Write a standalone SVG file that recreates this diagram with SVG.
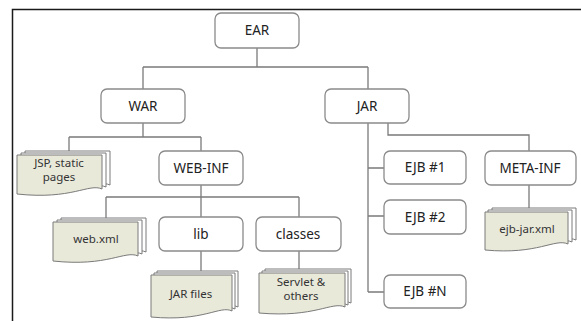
<svg xmlns="http://www.w3.org/2000/svg" width="581" height="321" viewBox="0 0 581 321">
<defs>
<style>
.box{fill:#fff;stroke:#8a8a8a;stroke-width:1.3}
.lbl{font-family:"Noto Sans","DejaVu Sans",sans-serif;font-size:13.5px;fill:#222;text-anchor:middle}
.dl{font-family:"Noto Sans","DejaVu Sans",sans-serif;font-size:11.5px;fill:#333;text-anchor:middle}
.pg{fill:#fff;stroke:#7a7a7a;stroke-width:1}
.fp{fill:#e9e9da;stroke:#7a7a7a;stroke-width:1}
.ln{fill:none;stroke:#7a7a7a;stroke-width:1.3}
</style>
</defs>
<rect width="581" height="321" fill="#fff"/>
<path d="M12.5 321 V9.5 H581" fill="none" stroke="#1a1a1a" stroke-width="1.5"/>
<g id="connectors">
<path class="ln" d="M257 48 V67 M143 67 H368 M143 67 V89 M368 67 V89"/>
<path class="ln" d="M143 123 V137 M69 137 H201 M69 137 V151 M201 137 V151"/>
<path class="ln" d="M201 185 V197 M106 197 H299 M106 197 V218 M201 197 V217 M299 197 V217"/>
<path class="ln" d="M201 251 V271 M299 251 V270"/>
<path class="ln" d="M368 123 V292 M368 168 H384 M368 216 H384 M368 292 H384"/>
<path class="ln" d="M388 123 V135 H529 V151 M529 185 V209"/>
</g>
<g id="ear"><rect class="box" x="215" y="13" width="84" height="35" rx="6"/><text class="lbl" x="257" y="35">EAR</text></g>
<g id="war"><rect class="box" x="101" y="89" width="84" height="34" rx="6"/><text class="lbl" x="143" y="111">WAR</text></g>
<g id="jar"><rect class="box" x="325" y="89" width="84" height="34" rx="6"/><text class="lbl" x="367" y="111">JAR</text></g>
<g id="webinf"><rect class="box" x="159" y="151" width="84" height="34" rx="6"/><text class="lbl" x="201" y="173">WEB-INF</text></g>
<g id="lib"><rect class="box" x="159" y="217" width="84" height="34" rx="6"/><text class="lbl" x="201" y="239">lib</text></g>
<g id="classes"><rect class="box" x="256" y="217" width="85" height="34" rx="6"/><text class="lbl" x="298" y="239">classes</text></g>
<g id="ejb1"><rect class="box" x="384" y="151" width="82" height="33" rx="6"/><text class="lbl" x="425" y="172">EJB #1</text></g>
<g id="ejb2"><rect class="box" x="384" y="200" width="82" height="34" rx="6"/><text class="lbl" x="425" y="222">EJB #2</text></g>
<g id="ejbn"><rect class="box" x="384" y="275" width="82" height="33" rx="6"/><text class="lbl" x="425" y="296">EJB #N</text></g>
<g id="metainf"><rect class="box" x="485" y="151" width="91" height="34" rx="6"/><text class="lbl" x="530" y="173">META-INF</text></g>
<g id="jsp">
<path class="pg" d="M25 151 H110 V185 C97 179 80 196 25 190 Z"/>
<path class="pg" d="M21 153 H106 V187 C93 181 76 198 21 192 Z"/>
<path class="fp" d="M17 155 H102 V189 C89 183 72 200 17 194 Z"/>
<text class="dl" x="59" y="167">JSP, static</text><text class="dl" x="59" y="181">pages</text>
</g>
<g id="webxml">
<path class="pg" d="M61 218 H146 V252 C133 246 116 263 61 257 Z"/>
<path class="pg" d="M57 220 H142 V254 C129 248 112 265 57 259 Z"/>
<path class="fp" d="M53 222 H138 V256 C125 250 108 267 53 261 Z"/>
<text class="dl" x="96" y="243">web.xml</text>
</g>
<g id="jarfiles">
<path class="pg" d="M157 271 H238 V307 C226 301 210 318 157 313 Z"/>
<path class="pg" d="M154 273 H235 V309 C223 303 207 320 154 315 Z"/>
<path class="fp" d="M151 275 H232 V311 C220 305 204 322 151 317 Z"/>
<text class="dl" x="191" y="298">JAR files</text>
</g>
<g id="servlet">
<path class="pg" d="M265 269 H351 V303 C338 297 321 314 265 309 Z"/>
<path class="pg" d="M262 271 H348 V305 C335 299 318 316 262 311 Z"/>
<path class="fp" d="M259 273 H345 V307 C332 301 315 318 259 313 Z"/>
<text class="dl" x="301" y="286">Servlet &amp;</text><text class="dl" x="301" y="300">others</text>
</g>
<g id="ejbjar">
<path class="pg" d="M492 208 H576 V240 C563 234 546 251 492 246 Z"/>
<path class="pg" d="M488 210 H572 V242 C559 236 542 253 488 248 Z"/>
<path class="fp" d="M485 212 H568 V244 C555 238 538 255 485 250 Z"/>
<text class="dl" x="527" y="233">ejb-jar.xml</text>
</g>
</svg>
